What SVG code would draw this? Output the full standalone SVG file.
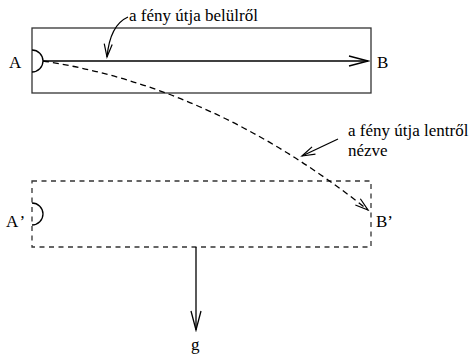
<svg xmlns="http://www.w3.org/2000/svg" width="473" height="354" viewBox="0 0 473 354">
<style>
text{font-family:"Liberation Serif","Times New Roman",serif;fill:#000}
.lbl{font-size:17px}
.note{font-size:17px}
.box{fill:none;stroke:#333;stroke-width:1.3}
.dbox{fill:none;stroke:#333;stroke-width:1.3;stroke-dasharray:5,4.5}
.ln{fill:none;stroke:#000;stroke-width:1.3}
</style>
<defs>
<marker id="big" markerUnits="userSpaceOnUse" markerWidth="22" markerHeight="14" refX="20" refY="7" orient="auto">
<path d="M1,2 L20,7 L1,12" fill="none" stroke="#000" stroke-width="1.3"/>
</marker>
<marker id="small" markerUnits="userSpaceOnUse" markerWidth="16" markerHeight="12" refX="14" refY="6" orient="auto">
<path d="M1,2 L14,6 L1,10" fill="none" stroke="#000" stroke-width="1.2"/>
</marker>
</defs>
<g id="top-box">
<rect class="box" x="32" y="28" width="339" height="65"/>
<path class="ln" d="M32,50 A11,11 0 0 1 32,72"/>
<text class="lbl" x="9" y="68">A</text>
<text class="lbl" x="377" y="68">B</text>
</g>
<g id="bottom-box">
<rect class="dbox" x="32" y="181" width="339" height="66"/>
<path class="ln" d="M32,203 A11,11 0 0 1 32,225"/>
<text class="lbl" x="6" y="227">A<tspan dx="3">’</tspan></text>
<text class="lbl" x="376" y="227">B’</text>
</g>
<g id="label-inside">
<text class="note" x="129" y="21">a fény útja belülről</text>
</g>
<g id="label-below">
<text class="note" x="348" y="136">a fény útja lentről</text>
<text class="note" x="348" y="156">nézve</text>
</g>
<g id="label-g">
<text class="lbl" x="191" y="350">g</text>
</g>
<g id="connectors">
<path class="ln" d="M43,61 L368,61" marker-end="url(#big)"/>
<path class="ln" d="M43,61 Q214,87 368,210" stroke-dasharray="6,4" marker-end="url(#small)"/>
<path class="ln" d="M128,17 Q110,25 107,57" marker-end="url(#small)"/>
<path class="ln" d="M338,139 L302,156" marker-end="url(#small)"/>
<path class="ln" d="M196,247 L196,330" marker-end="url(#big)"/>
</g>
</svg>
